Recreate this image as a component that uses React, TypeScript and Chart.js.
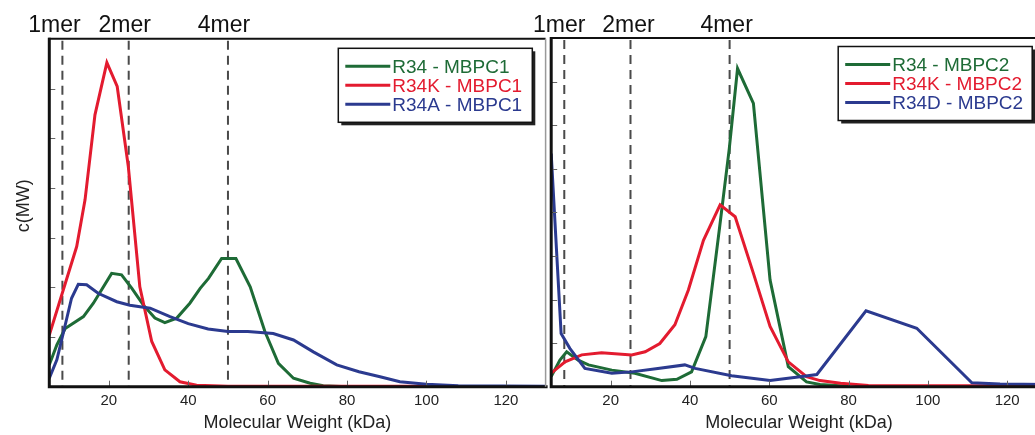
import React, { useEffect, useRef } from "react";
import { Chart, registerables } from "chart.js";

Chart.register(...registerables);

const FONT = "'Liberation Sans', Arial, Helvetica, sans-serif";

// ---------- shared axis data ----------
const xTickValues = [20, 40, 60, 80, 100, 120];
const merLabels = ["1mer", "2mer", "4mer"];
const merMw = [8.3, 25, 50];
const seriesColors = ["#1e6b36", "#e31b2f", "#2b3a8f"];
const yAxisTitle = "c(MW)";
const xAxisTitle = "Molecular Weight (kDa)";

// ---------- left panel (MBPC1) ----------
const leftNames = ["R34 - MBPC1", "R34K - MBPC1", "R34A - MBPC1"];

const r34Mbpc1Mw = [5, 6.9, 9, 13.6, 16.1, 20.7, 23.2, 25.8, 28.7, 31.6, 34.1, 37.1, 40.4, 43, 45.1, 48.4, 52, 55.6, 59.3, 62.7, 66.5, 70.7, 74, 80];
const r34Mbpc1C = [0.44, 0.84, 1.17, 1.41, 1.68, 2.28, 2.25, 1.98, 1.64, 1.38, 1.29, 1.38, 1.68, 1.98, 2.18, 2.58, 2.58, 2.01, 1.11, 0.47, 0.17, 0.07, 0.02, 0];

const r34kMbpc1Mw = [5, 11.9, 14, 16.5, 19.5, 22.1, 24.9, 27.8, 30.8, 34.1, 37.9, 42.1, 50, 70, 100];
const r34kMbpc1C = [1.04, 2.82, 3.76, 5.47, 6.52, 6.04, 4.43, 2.01, 0.91, 0.34, 0.1, 0.03, 0.01, 0.01, 0.01];

const r34aMbpc1Mw = [5, 6.9, 8.5, 10.6, 12.3, 14.4, 17.3, 22, 25.3, 30.4, 35.4, 40, 45, 50, 55, 61.4, 66.5, 71.5, 77.4, 83, 88.3, 93.3, 100, 108, 130];
const r34aMbpc1C = [0.17, 0.54, 1.07, 1.78, 2.06, 2.05, 1.88, 1.71, 1.64, 1.58, 1.41, 1.27, 1.16, 1.11, 1.11, 1.07, 0.94, 0.7, 0.44, 0.3, 0.2, 0.1, 0.05, 0.02, 0.01];

// ---------- right panel (MBPC2) ----------
const rightNames = ["R34 - MBPC2", "R34K - MBPC2", "R34D - MBPC2"];

const r34Mbpc2Mw = [5, 7.2, 8.9, 11.8, 14.4, 20.3, 26.1, 32.9, 36.7, 40.4, 44, 47.4, 49.9, 52, 56, 60.2, 64.8, 69.4, 72.8, 80];
const r34Mbpc2C = [0.23, 0.61, 0.8, 0.61, 0.5, 0.38, 0.31, 0.14, 0.17, 0.34, 1.15, 3.6, 5.45, 7.3, 6.5, 2.45, 0.46, 0.11, 0.05, 0.01];

const r34kMbpc2Mw = [5, 8.5, 12.7, 17.7, 25.3, 28.7, 32.4, 36.2, 39.6, 43.4, 47.6, 51.4, 56, 60.2, 64.8, 69.4, 72.8, 78, 85, 100, 130];
const r34kMbpc2C = [0.31, 0.57, 0.73, 0.78, 0.73, 0.8, 0.99, 1.42, 2.22, 3.36, 4.17, 3.9, 2.6, 1.38, 0.57, 0.23, 0.14, 0.08, 0.03, 0.02, 0.02];

const r34dMbpc2Mw = [5, 7.5, 9.7, 13.5, 20.3, 25.3, 31.9, 38.7, 41.3, 50.5, 60.2, 67.8, 72, 84.4, 97.2, 111.1, 118.2, 130];
const r34dMbpc2C = [5.35, 1.22, 0.88, 0.42, 0.31, 0.34, 0.42, 0.5, 0.42, 0.25, 0.14, 0.23, 0.28, 1.74, 1.34, 0.09, 0.06, 0.05];

function pts(xs: number[], ys: number[]) {
  return xs.map((x, i) => ({ x, y: ys[i] }));
}

const panelPlugin = {
  id: "panel",
  beforeDatasetsDraw(chart: any) {
    const { ctx, chartArea: a } = chart;
    const xs = chart.scales.x;
    ctx.save();
    ctx.strokeStyle = "#4a4a4a";
    ctx.lineWidth = 2;
    ctx.setLineDash([9, 6]);
    merMw.forEach((mw) => {
      const px = xs.getPixelForValue(mw);
      ctx.beginPath();
      ctx.moveTo(px, a.top + 2);
      ctx.lineTo(px, a.bottom);
      ctx.stroke();
    });
    ctx.restore();
  },
  afterDatasetsDraw(chart: any, _args: any, opts: any) {
    const { ctx, chartArea: a } = chart;
    const xs = chart.scales.x;
    const ys = chart.scales.y;
    ctx.save();
    // inward tick marks
    ctx.strokeStyle = "#666";
    ctx.lineWidth = 1;
    ys.ticks.forEach((t: any) => {
      if (t.value <= ys.min || t.value >= ys.max) return;
      const py = Math.round(ys.getPixelForValue(t.value)) + 0.5;
      ctx.beginPath();
      ctx.moveTo(a.left, py);
      ctx.lineTo(a.left + 6, py);
      ctx.stroke();
    });
    xTickValues.forEach((v) => {
      const px = Math.round(xs.getPixelForValue(v)) + 0.5;
      ctx.beginPath();
      ctx.moveTo(px, a.bottom);
      ctx.lineTo(px, a.bottom - 6);
      ctx.stroke();
    });
    // frame
    ctx.strokeStyle = "#111";
    ctx.lineWidth = 2;
    ctx.beginPath();
    ctx.moveTo(a.left - 1, a.top);
    ctx.lineTo(opts.rightBorder ? a.right : a.right + 40, a.top);
    ctx.stroke();
    ctx.lineWidth = 3;
    ctx.beginPath();
    ctx.moveTo(a.left, a.top - 1);
    ctx.lineTo(a.left, a.bottom);
    ctx.lineTo(opts.rightBorder ? a.right + 2 : a.right + 40, a.bottom);
    ctx.stroke();
    if (opts.rightBorder) {
      ctx.strokeStyle = "#999";
      ctx.lineWidth = 1.5;
      ctx.beginPath();
      ctx.moveTo(a.right, a.top);
      ctx.lineTo(a.right, a.bottom);
      ctx.stroke();
    }
    // y-axis title
    if (opts.yTitle) {
      ctx.save();
      ctx.translate(a.left - 25, (a.top + a.bottom) / 2 - 7);
      ctx.rotate(-Math.PI / 2);
      ctx.fillStyle = "#222";
      ctx.font = `18px ${FONT}`;
      ctx.textAlign = "center";
      ctx.textBaseline = "middle";
      ctx.fillText(opts.yTitle, 0, 0);
      ctx.restore();
    }
    // oligomer labels
    ctx.fillStyle = "#111";
    ctx.font = `23px ${FONT}`;
    ctx.textAlign = "center";
    ctx.textBaseline = "alphabetic";
    merLabels.forEach((lab, i) => {
      const px = xs.getPixelForValue(merMw[i]) + opts.merShift[i];
      ctx.fillText(lab, px, a.top - 6.5);
    });
    // legend
    const bx = a.left + opts.legendX;
    const by = a.top + opts.legendY;
    const bw = 194;
    const bh = 74;
    ctx.fillStyle = "#222";
    ctx.fillRect(bx + 3, by + 3, bw, bh);
    ctx.fillStyle = "#fff";
    ctx.fillRect(bx, by, bw, bh);
    ctx.strokeStyle = "#111";
    ctx.lineWidth = 1.5;
    ctx.strokeRect(bx, by, bw, bh);
    ctx.font = `19px ${FONT}`;
    ctx.textAlign = "left";
    ctx.textBaseline = "middle";
    chart.data.datasets.forEach((ds: any, i: number) => {
      const ry = by + 18 + i * 19;
      ctx.strokeStyle = ds.borderColor;
      ctx.lineWidth = 3;
      ctx.beginPath();
      ctx.moveTo(bx + 7, ry);
      ctx.lineTo(bx + 52, ry);
      ctx.stroke();
      ctx.fillStyle = ds.borderColor;
      ctx.fillText(ds.label, bx + 54, ry + 1);
    });
    ctx.restore();
  },
};

function makeConfig(names: string[], series: { x: number; y: number }[][], yMax: number, side: "left" | "right") {
  const isLeft = side === "left";
  return {
    type: "line" as const,
    data: {
      datasets: series.map((d, i) => ({
        label: names[i],
        data: d,
        borderColor: seriesColors[i],
        backgroundColor: seriesColors[i],
        borderWidth: 3,
        pointRadius: 0,
        tension: 0,
        fill: false,
        order: i === 2 ? 0 : i === 1 ? 1 : 2,
      })),
    },
    plugins: [panelPlugin],
    options: {
      animation: false,
      responsive: false,
      maintainAspectRatio: false,
      layout: {
        autoPadding: false,
        padding: isLeft
          ? { top: 38.8, left: 0, right: 2.4, bottom: 0 }
          : { top: 38, left: 21.2, right: 13.2, bottom: 0 },
      },
      plugins: {
        legend: { display: false },
        tooltip: { enabled: false },
        panel: {
          rightBorder: isLeft,
          yTitle: isLeft ? yAxisTitle : "",
          legendX: isLeft ? 289 : 287,
          legendY: isLeft ? 9.5 : 8.5,
          merShift: isLeft ? [-8, -4, -4] : [-5, -2, -3],
        },
      },
      scales: {
        x: {
          type: "linear",
          min: 5,
          max: 130,
          grid: { display: false, drawTicks: false },
          border: { display: false },
          afterBuildTicks: (scale: any) => {
            scale.ticks = xTickValues.map((v) => ({ value: v }));
          },
          afterFit: (scale: any) => {
            scale.height = 48.3;
          },
          ticks: {
            padding: 5,
            color: "#222",
            font: { family: FONT, size: 15, lineHeight: 1.2 },
            maxRotation: 0,
          },
          title: {
            display: true,
            text: xAxisTitle,
            color: "#222",
            font: { family: FONT, size: 18, lineHeight: 1.2 },
            padding: { top: 0, bottom: 1.2 },
          },
        },
        y: {
          type: "linear",
          min: 0,
          max: yMax,
          grid: { display: false, drawTicks: false },
          border: { display: false },
          ticks: { display: false, stepSize: 1 },
          afterFit: (scale: any) => {
            scale.width = isLeft ? 49.3 : 0;
          },
          title: { display: false },
        },
      },
    },
  };
}

export default function App() {
  const leftRef = useRef<HTMLCanvasElement | null>(null);
  const rightRef = useRef<HTMLCanvasElement | null>(null);

  useEffect(() => {
    const left = new Chart(
      leftRef.current as HTMLCanvasElement,
      makeConfig(
        leftNames,
        [pts(r34Mbpc1Mw, r34Mbpc1C), pts(r34kMbpc1Mw, r34kMbpc1C), pts(r34aMbpc1Mw, r34aMbpc1C)],
        7,
        "left"
      ) as any
    );
    const right = new Chart(
      rightRef.current as HTMLCanvasElement,
      makeConfig(
        rightNames,
        [pts(r34Mbpc2Mw, r34Mbpc2C), pts(r34kMbpc2Mw, r34kMbpc2C), pts(r34dMbpc2Mw, r34dMbpc2C)],
        8,
        "right"
      ) as any
    );
    return () => {
      left.destroy();
      right.destroy();
    };
  }, []);

  return (
    <div
      style={{
        position: "fixed",
        left: 0,
        top: 0,
        width: 1035,
        height: 435,
        overflow: "hidden",
        background: "#fff",
      }}
    >
      <canvas
        ref={leftRef}
        width={548}
        height={435}
        style={{ position: "absolute", left: 0, top: 0, width: 548, height: 435 }}
      />
      <canvas
        ref={rightRef}
        width={530}
        height={435}
        style={{ position: "absolute", left: 530, top: 0, width: 530, height: 435 }}
      />
    </div>
  );
}
